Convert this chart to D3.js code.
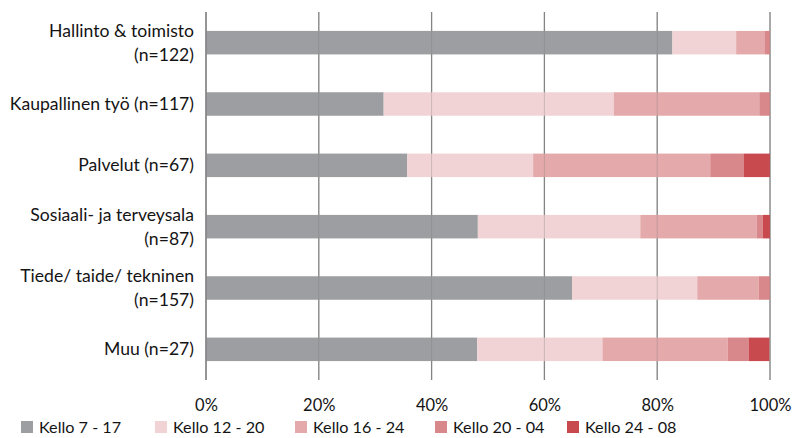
<!DOCTYPE html>
<html><head><meta charset="utf-8">
<script src="https://cdn.jsdelivr.net/npm/d3@7"></script>
<style>
html,body{margin:0;padding:0;background:#fff;}
svg{display:block;}
text{font-family:Lato,"Liberation Sans",sans-serif;fill:#141414;}
</style></head>
<body><svg id="chart" width="793" height="438"></svg>
<script>
const categories = [
  ["Hallinto & toimisto","(n=122)"],
  ["Kaupallinen työ (n=117)"],
  ["Palvelut (n=67)"],
  ["Sosiaali- ja terveysala","(n=87)"],
  ["Tiede/ taide/ tekninen","(n=157)"],
  ["Muu (n=27)"]
];
const seriesNames = ["Kello 7 - 17","Kello 12 - 20","Kello 16 - 24","Kello 20 - 04","Kello 24 - 08"];
const seriesColors = ["#9c9ea1","#f1d3d5","#e4a9aa","#d8888b","#c94a4e"];
// percentages per category, one array per series
const kello7_17  = [82.7, 31.5, 35.7, 48.2, 64.9, 48.1];
const kello12_20 = [11.3, 40.8, 22.3, 28.8, 22.2, 22.2];
const kello16_24 = [ 5.0, 25.8, 31.4, 20.6, 10.9, 22.2];
const kello20_04 = [ 1.0,  1.9,  5.9,  1.1,  2.0,  3.7];
const kello24_08 = [ 0.0,  0.0,  4.7,  1.3,  0.0,  3.7];
const tickValues = [0,20,40,60,80,100];

const series = [kello7_17,kello12_20,kello16_24,kello20_04,kello24_08];
const rows = categories.map((c,i)=>{
  const o = {key:i};
  seriesNames.forEach((s,j)=>o[s]=series[j][i]);
  return o;
});
const stack = d3.stack().keys(seriesNames)(rows);

const svg = d3.select("#chart");
const x = d3.scaleLinear().domain([0,100]).range([206,770]);
const y = d3.scaleBand().domain(d3.range(categories.length)).range([12,380])
  .paddingInner(0.617).paddingOuter(0.3085);

// gridlines (behind)
svg.append("g").selectAll("line").data(tickValues).join("line")
  .attr("x1",d=>x(d)).attr("x2",d=>x(d)).attr("y1",12).attr("y2",380)
  .attr("stroke","#8a8a8a").attr("stroke-width",1.3);

// bars
svg.append("g").selectAll("g").data(stack).join("g")
  .attr("fill",(d,i)=>seriesColors[i])
  .selectAll("rect").data(d=>d).join("rect")
  .attr("x",d=>x(d[0])).attr("width",d=>Math.max(0,x(d[1])-x(d[0])))
  .attr("y",(d,i)=>y(i)).attr("height",y.bandwidth());

// gridlines faint overlay
svg.append("g").selectAll("line").data(tickValues).join("line")
  .attr("x1",d=>x(d)).attr("x2",d=>x(d)).attr("y1",12).attr("y2",380)
  .attr("stroke","#777").attr("stroke-width",1).attr("opacity",d=>d===0?1:0.3);

// x axis labels
const xAxis = d3.axisBottom(x).tickValues(tickValues).tickFormat(d=>d+"%").tickSize(0);
const ax = svg.append("g").attr("transform","translate(0,395)").call(xAxis);
ax.select(".domain").remove();
ax.selectAll("text").style("font-size","16.5px").attr("dy","0.71em").attr("y",4)
  .style("font-family","Lato, sans-serif").attr("fill","#141414");

// category labels
const lab = svg.append("g");
categories.forEach((lines,i)=>{
  const cy = y(i)+y.bandwidth()/2;
  const t = lab.append("text").attr("text-anchor","end").attr("x",194)
    .style("font-size","17.6px");
  lines.forEach((l,k)=>{
    const off = (k-(lines.length-1)/2)*24;
    t.append("tspan").attr("x",194).attr("y",cy+off).attr("dy","0.35em").text(l);
  });
});

// legend
const legendX = [21,155,295,435,567];
const leg = svg.append("g").selectAll("g").data(seriesNames).join("g")
  .attr("transform",(d,i)=>`translate(${legendX[i]},421)`);
leg.append("rect").attr("width",12).attr("height",12).attr("fill",(d,i)=>seriesColors[i]);
leg.append("text").attr("x",18).attr("y",6).attr("dy","0.35em").style("font-size","16.2px").text(d=>d);
</script></body></html>
